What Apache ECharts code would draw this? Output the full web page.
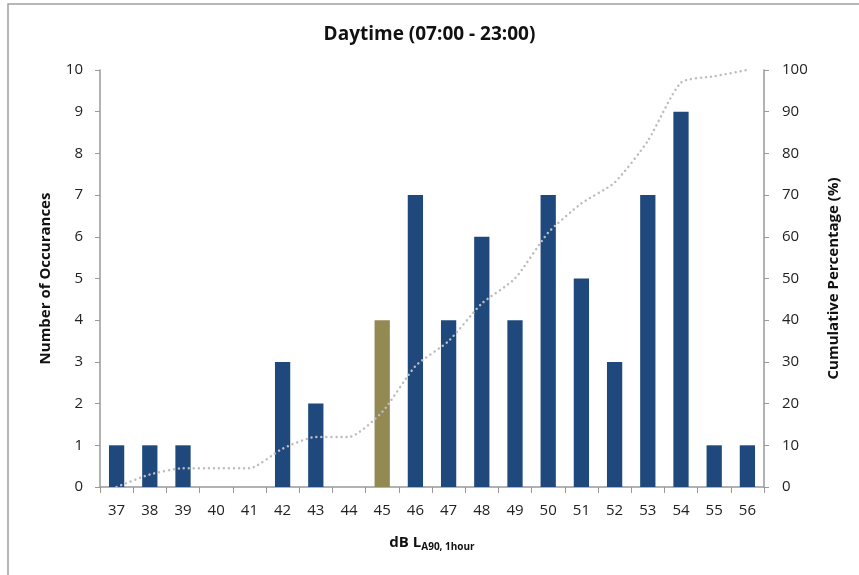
<!DOCTYPE html>
<html><head><meta charset="utf-8">
<script src="https://cdn.jsdelivr.net/npm/echarts@6/dist/echarts.min.js"></script>
<style>html,body{margin:0;padding:0;background:#fff}#c{width:859px;height:575px}</style>
</head><body><div id="c"></div>
<script>
var categories = ['37','38','39','40','41','42','43','44','45','46','47','48','49','50','51','52','53','54','55','56'];
var occurrences = [1,1,1,0,0,3,2,0,4,7,4,6,4,7,5,3,7,9,1,1];
var cumulative = [0,3,4.5,4.5,4.5,9.2,12,12,18,29,35,44,50,61,68,73,83,97,98.5,100];
var highlightCategory = '45';
var leftTicks = [0,1,2,3,4,5,6,7,8,9,10];
var rightTicks = [0,10,20,30,40,50,60,70,80,90,100];

var FONT = '"Open Sans", "Noto Sans", sans-serif';
var chart = echarts.init(document.getElementById('c'), null, {renderer:'canvas'});
var barData = occurrences.map(function(v,i){
  return {value:v, itemStyle:{color: categories[i]===highlightCategory ? '#938953' : '#1F497D'}};
});
chart.setOption({
  animation:false,
  backgroundColor:'#fff',
  textStyle:{fontFamily:FONT},
  graphic:[{type:'rect', shape:{x:8,y:4,width:900,height:620}, style:{fill:'none', stroke:'#a0a0a0', lineWidth:1.5}, silent:true}],
  title:{text:'Daytime (07:00 - 23:00)', left:'center', top:20,
    textStyle:{fontFamily:FONT, fontSize:19, fontWeight:'bold', color:'#111'}},
  grid:{left:100, right:95, top:70, bottom:88, containLabel:false},
  xAxis:{type:'category', data:categories, boundaryGap:true,
    axisLine:{lineStyle:{color:'#999', width:1.5}},
    axisTick:{show:true, alignWithLabel:false, length:6, lineStyle:{color:'#999'}},
    axisLabel:{fontFamily:FONT, fontSize:15, color:'#222', margin:16},
    name:'{m|dB L}{s|A90, 1hour}', nameLocation:'middle', nameGap:47,
    nameTextStyle:{rich:{m:{fontFamily:FONT, fontSize:15, fontWeight:'bold', color:'#111'},
                         s:{fontFamily:FONT, fontSize:10, fontWeight:'bold', color:'#111', verticalAlign:'bottom', padding:[8,0,0,0]}}}
  },
  yAxis:[{type:'value', min:0, max:10, interval:1, position:'left',
    axisLine:{show:true, lineStyle:{color:'#999', width:1.5}},
    axisTick:{show:true, length:5, lineStyle:{color:'#999'}},
    splitLine:{show:false},
    axisLabel:{fontFamily:FONT, fontSize:15, color:'#222', margin:17,
      formatter:function(v){return leftTicks.indexOf(v)>=0? String(v):'';}},
    name:'Number of Occurances', nameLocation:'middle', nameGap:47, nameRotate:90,
    nameTextStyle:{fontFamily:FONT, fontSize:15, fontWeight:'bold', color:'#111'}
  },{type:'value', min:0, max:100, interval:10, position:'right',
    axisLine:{show:true, lineStyle:{color:'#999', width:1.5}},
    axisTick:{show:true, length:5, lineStyle:{color:'#999'}},
    splitLine:{show:false},
    axisLabel:{fontFamily:FONT, fontSize:15, color:'#222', margin:18,
      formatter:function(v){return rightTicks.indexOf(v)>=0? String(v):'';}},
    name:'Cumulative Percentage (%)', nameLocation:'middle', nameGap:62, nameRotate:90,
    nameTextStyle:{fontFamily:FONT, fontSize:15, fontWeight:'bold', color:'#111'}
  }],
  series:[{type:'bar', data:barData, barWidth:'46%', yAxisIndex:0},
    {type:'line', data:cumulative, yAxisIndex:1, smooth:0.2, symbol:'none',
      lineStyle:{color:'#bdbdbd', width:2.5, type:[0.01,5], cap:'round'}, z:3}]
});
</script></body></html>
